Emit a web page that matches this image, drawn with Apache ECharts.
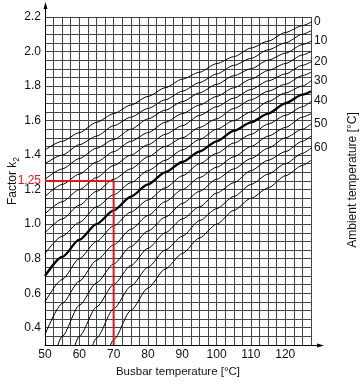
<!DOCTYPE html>
<html><head><meta charset="utf-8">
<script src="https://cdn.jsdelivr.net/npm/echarts@6/dist/echarts.min.js"></script>
<style>html,body{margin:0;padding:0;background:#fff}#c{width:360px;height:384px}</style>
</head><body><div id="c"></div>
<script>
// Busbar temperature samples [°C]
const busbarTemp = [50,55,60,65,70,75,80,85,90,95,100,105,110,115,120,125,127.5];
// Ambient temperature of each curve [°C]
const ambientTemps = [0,5,10,15,20,25,30,35,40,45,50,55,60,65];
// Factor k2 (null = curve not yet started)
const k2Amb0  = [1.43,1.48,1.53,1.59,1.64,1.69,1.74,1.79,1.84,1.88,1.93,1.97,2.02,2.06,2.11,2.15,2.17];
const k2Amb5  = [1.35,1.40,1.46,1.51,1.57,1.62,1.67,1.72,1.77,1.82,1.87,1.92,1.96,2.01,2.05,2.10,2.12];
const k2Amb10 = [1.26,1.32,1.38,1.44,1.49,1.55,1.61,1.66,1.71,1.76,1.81,1.86,1.90,1.95,1.99,2.04,2.06];
const k2Amb15 = [1.16,1.23,1.29,1.36,1.42,1.48,1.53,1.59,1.64,1.69,1.74,1.79,1.84,1.89,1.93,1.98,2.00];
const k2Amb20 = [1.06,1.13,1.20,1.27,1.34,1.40,1.46,1.52,1.57,1.63,1.68,1.73,1.78,1.83,1.87,1.92,1.94];
const k2Amb25 = [0.95,1.03,1.11,1.19,1.26,1.32,1.39,1.45,1.50,1.56,1.61,1.67,1.72,1.77,1.81,1.86,1.88];
const k2Amb30 = [0.83,0.93,1.01,1.10,1.17,1.24,1.31,1.37,1.43,1.49,1.55,1.60,1.65,1.71,1.76,1.80,1.83];
const k2Amb35 = [0.70,0.81,0.91,1.00,1.08,1.16,1.23,1.30,1.36,1.42,1.48,1.54,1.59,1.64,1.70,1.75,1.77];
const k2Amb40 = [0.55,0.68,0.80,0.90,0.99,1.07,1.14,1.21,1.28,1.35,1.41,1.47,1.52,1.58,1.63,1.68,1.71];
const k2Amb45 = [0.36,0.54,0.67,0.79,0.88,0.97,1.05,1.13,1.20,1.27,1.33,1.39,1.45,1.51,1.56,1.62,1.64];
const k2Amb50 = [0.00,0.35,0.53,0.66,0.77,0.87,0.96,1.04,1.12,1.19,1.26,1.32,1.38,1.44,1.50,1.55,1.58];
const k2Amb55 = [null,0.00,0.35,0.52,0.65,0.76,0.86,0.95,1.03,1.10,1.18,1.24,1.31,1.37,1.42,1.48,1.51];
const k2Amb60 = [null,null,0.00,0.34,0.51,0.64,0.75,0.85,0.93,1.02,1.09,1.16,1.23,1.29,1.35,1.41,1.44];
const k2Amb65 = [null,null,null,0.00,0.33,0.50,0.63,0.74,0.83,0.92,1.00,1.08,1.15,1.21,1.28,1.34,1.37];
const k2Curves = [k2Amb0,k2Amb5,k2Amb10,k2Amb15,k2Amb20,k2Amb25,k2Amb30,k2Amb35,k2Amb40,k2Amb45,k2Amb50,k2Amb55,k2Amb60,k2Amb65];
const labeledAmbient = [0,10,20,30,40,50,60];
const referenceAmbient = 35;
// Tick labels
const xTickLabels = [50,60,70,80,90,100,110,120];
const yTickLabels = ['0.4','0.6','0.8','1.0','1.2','1.4','1.6','1.8','2.0','2.2'];
// Worked example (red)
const exampleBusbar = 70;
const exampleK2 = 1.25;

const FONT = 'Liberation Sans, Arial, Helvetica, sans-serif';
const X_MIN = 50, X_MAX = 127.5, Y_MIN = 0.3, Y_MAX = 2.2;

const chart = echarts.init(document.getElementById('c'), null, {renderer: 'canvas'});

const series = [];
ambientTemps.forEach((ta, i) => {
  const vals = k2Curves[i];
  const data = [];
  busbarTemp.forEach((tb, j) => { if (vals[j] !== null) data.push([tb, vals[j]]); });
  const thick = ta === referenceAmbient;
  series.push({
    type: 'line', name: String(ta), data, symbol: 'none', silent: true,
    smooth: 0.25, smoothMonotone: 'x',
    lineStyle: {color: '#000', width: thick ? 2.3 : 1},
    z: thick ? 4 : 3
  });
  if (labeledAmbient.includes(ta)) {
    const last = vals[vals.length - 1];
    series.push({
      type: 'line', name: 'tick' + ta, data: [[X_MAX, last], [X_MAX + 1.6, last + 0.015]],
      symbol: 'none', silent: true, clip: false,
      lineStyle: {color: '#000', width: 0.8},
      endLabel: {show: true, formatter: String(ta), distance: 2, color: '#111', fontSize: 12, fontFamily: FONT}
    });
  }
});
// red example lines
series.push({
  type: 'line', data: [[X_MIN, exampleK2], [exampleBusbar, exampleK2], [exampleBusbar, Y_MIN]],
  symbol: 'none', silent: true, lineStyle: {color: '#e8141b', width: 2}, z: 6
});

const xSet = new Set(xTickLabels.map(v => Math.round(v * 10)));
const ySet = new Set(yTickLabels.map(v => Math.round(parseFloat(v) * 100)));
const exKey = Math.round(exampleK2 * 100);

chart.setOption({
  animation: false,
  grid: {left: 45, top: 17, width: 266, height: 328, containLabel: false, outerBoundsMode: 'none'},
  xAxis: {
    type: 'value', min: X_MIN, max: X_MAX, interval: 2.5,
    name: 'Busbar temperature [°C]', nameLocation: 'middle', nameGap: 21,
    nameTextStyle: {fontSize: 11.5, color: '#111', fontFamily: FONT},
    axisLine: {show: true, lineStyle: {color: '#000', width: 1}},
    axisTick: {show: false},
    axisLabel: {
      margin: 4, fontSize: 12, color: '#111', fontFamily: FONT,
      formatter: v => xSet.has(Math.round(v * 10)) ? String(Math.round(v)) : ''
    },
    splitLine: {show: true, lineStyle: {color: '#444', width: 1}}
  },
  yAxis: {
    type: 'value', min: Y_MIN, max: Y_MAX, interval: 0.05,
    name: '{a|Factor k}{b|2}', nameLocation: 'middle', nameGap: 24, nameRotate: 90,
    nameMoveOverlap: false,
    nameTextStyle: {
      color: '#111', fontFamily: FONT,
      rich: {
        a: {fontSize: 12, lineHeight: 14, verticalAlign: 'top', fontFamily: FONT, color: '#111'},
        b: {fontSize: 8.5, lineHeight: 9, verticalAlign: 'bottom', fontFamily: FONT, color: '#111'}
      }
    },
    axisLine: {show: true, lineStyle: {color: '#000', width: 1}},
    axisTick: {show: false},
    axisLabel: {
      margin: 4, fontSize: 12, color: '#111', fontFamily: FONT,
      formatter: v => {
        const k = Math.round(v * 100);
        if (k === exKey) return '{r|' + exampleK2.toFixed(2) + '}';
        return ySet.has(k) ? (k / 100).toFixed(1) : '';
      },
      rich: {r: {color: '#e8141b', fontSize: 12, fontFamily: FONT}}
    },
    splitLine: {show: true, lineStyle: {color: '#444', width: 1}}
  },
  series
});

const pTL = chart.convertToPixel({gridIndex: 0}, [X_MIN, Y_MAX]);
const pBR = chart.convertToPixel({gridIndex: 0}, [X_MAX, Y_MIN]);
const L = Math.round(pTL[0]) + 0.5, T = pTL[1], R = pBR[0], B = Math.round(pBR[1]) + 0.5;
chart.setOption({
  graphic: [
    {type: 'line', shape: {x1: L, y1: T, x2: L, y2: T - 12}, style: {stroke: '#000', lineWidth: 1}, silent: true},
    {type: 'polygon', shape: {points: [[L, T - 15], [L - 2, T - 8], [L + 2, T - 8]]}, style: {fill: '#000'}, silent: true},
    {type: 'line', shape: {x1: R, y1: B, x2: R + 9, y2: B}, style: {stroke: '#000', lineWidth: 1}, silent: true},
    {type: 'polygon', shape: {points: [[R + 13, B], [R + 6, B - 2], [R + 6, B + 2]]}, style: {fill: '#000'}, silent: true},
    {type: 'text', x: 353, y: 180, rotation: Math.PI / 2, silent: true,
     style: {text: 'Ambient temperature [°C]', fontSize: 12, fontFamily: FONT, fill: '#111', align: 'center', verticalAlign: 'middle'}}
  ]
});
</script></body></html>
